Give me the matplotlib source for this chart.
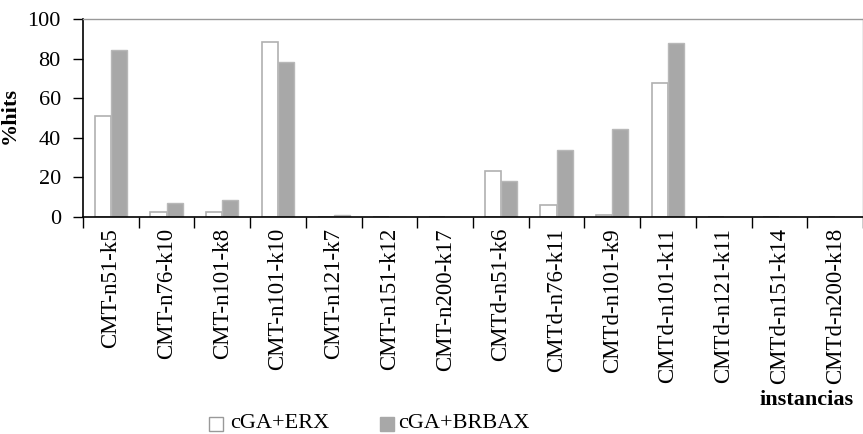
import matplotlib
matplotlib.use("Agg")
import matplotlib.pyplot as plt
import numpy as np
from matplotlib.patches import Rectangle

categories = ["CMT-n51-k5", "CMT-n76-k10", "CMT-n101-k8", "CMT-n101-k10", "CMT-n121-k7",
              "CMT-n151-k12", "CMT-n200-k17", "CMTd-n51-k6", "CMTd-n76-k11", "CMTd-n101-k9",
              "CMTd-n101-k11", "CMTd-n121-k11", "CMTd-n151-k14", "CMTd-n200-k18"]
erx = [51, 2.3, 2.3, 88.6, 0, 0, 0, 23.4, 6.1, 0.8, 67.8, 0, 0, 0]
brbax = [84.3, 7.1, 8.6, 78.5, 0.8, 0, 0, 18.2, 34, 44.6, 88, 0, 0, 0]
series_names = ["cGA+ERX", "cGA+BRBAX"]
yticks = [0, 20, 40, 60, 80, 100]

plt.rcParams['font.family'] = ['Liberation Serif', 'DejaVu Serif']

W, H = 863, 434
fig = plt.figure(figsize=(W/100, H/100), dpi=100)
ax = fig.add_axes([83/W, 1 - 217/H, 780/W, (217-19)/H])

x = np.arange(len(categories))
bw = 0.29
ax.bar(x - bw/2, erx, bw, color="white", edgecolor="#b0b0b0", linewidth=1.2, zorder=2)
ax.bar(x + bw/2, brbax, bw, color="#a8a8a8", edgecolor="#b8b8b8", linewidth=1.0, zorder=2)

ax.set_xlim(-0.5, len(categories) - 0.5)
ax.set_ylim(0, 100)
ax.set_yticks(yticks)
ax.set_yticklabels([str(v) for v in yticks], fontsize=16)
ax.tick_params(axis='y', direction='out', length=7, width=1, pad=9)

ax.set_xticks(x)
ax.set_xticklabels(categories, rotation=90, fontsize=16.5)
ax.tick_params(axis='x', which='major', length=0, pad=8)
ax.set_xticks(np.arange(len(categories) + 1) - 0.5, minor=True)
ax.tick_params(axis='x', which='minor', direction='out', length=8, width=1)

for s in ['left', 'bottom']:
    ax.spines[s].set_color('black')
    ax.spines[s].set_linewidth(1.2)
for s in ['top', 'right']:
    ax.spines[s].set_color('#999999')
    ax.spines[s].set_linewidth(1.0)

ax.set_ylabel("%hits", fontsize=16, fontweight='bold')
ax.yaxis.set_label_coords((20 - 83) / 780, (217 - 115.5) / 198)

fig.text(854/W, 1 - 400/H, "instancias", fontsize=16, fontweight='bold', ha='right', va='center')

# legend
legend_items = [(209, "white", "#999999", 230), (380, "#a8a8a8", "#a8a8a8", 398)]
for (sx, fc, ec, tx), name in zip(legend_items, series_names):
    fig.add_artist(Rectangle((sx / W, 1 - 431 / H), 14 / W, 14 / H, facecolor=fc,
                             edgecolor=ec, linewidth=1, transform=fig.transFigure))
    fig.text(tx / W, 1 - 424 / H, name, fontsize=16, ha='left', va='center')

fig.savefig("out.png", dpi=100)
